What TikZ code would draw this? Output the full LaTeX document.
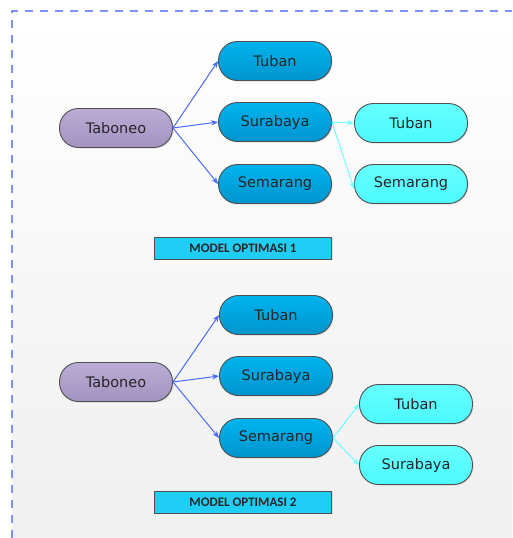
\documentclass[tikz,border=0pt]{standalone}
\usepackage{fontspec}
\setmainfont{DejaVu Sans}
\newfontfamily\labfont{Carlito}
\usetikzlibrary{shadows,arrows.meta}
\definecolor{bordc}{HTML}{7F90FF}
\definecolor{arrb}{HTML}{4A6CFF}
\definecolor{arrc}{HTML}{70FFFF}
\definecolor{purtop}{HTML}{BBADD6}
\definecolor{purbot}{HTML}{A392BF}
\definecolor{bltop}{HTML}{00B4EE}
\definecolor{blbot}{HTML}{0094CE}
\definecolor{cytop}{HTML}{66FFFF}
\definecolor{cybot}{HTML}{4CFAFF}
\definecolor{edgec}{HTML}{505050}
\definecolor{labc}{HTML}{1FCDF5}
\tikzset{
  pill/.style={rectangle, rounded corners=19pt, minimum width=113pt, minimum height=39pt,
    inner sep=0pt, draw=edgec, line width=0.9pt, font=\fontsize{14.5}{17}\selectfont, text=black!85,
    drop shadow={opacity=0.25, shadow xshift=1pt, shadow yshift=-1pt}},
  pur/.style={pill, top color=purtop, bottom color=purbot},
  blu/.style={pill, top color=bltop, bottom color=blbot},
  cya/.style={pill, top color=cytop, bottom color=cybot},
  modlab/.style={rectangle, draw=edgec, line width=0.8pt, fill=labc, minimum width=177pt, minimum height=22pt,
    inner sep=0pt, font=\labfont\bfseries\fontsize{13}{14}\selectfont, text=black!85,
    drop shadow={opacity=0.2, shadow xshift=1pt, shadow yshift=-1pt}},
  barr/.style={draw=arrb, line width=1pt, -{Stealth[length=7pt,width=5.5pt]}},
  carr/.style={draw=arrc, line width=1pt, -{Stealth[length=7pt,width=5.5pt]}},
}
\begin{document}
\begin{tikzpicture}[x=1pt,y=-1pt]
\useasboundingbox (0,0) rectangle (512,538);
\fill[white] (0,0) rectangle (512,538);
\shade[top color=white, bottom color=black!6] (12,11) rectangle (512,538);
\draw[bordc, line width=1.3pt, dash pattern=on 8pt off 7pt] (12,538) -- (12,11) -- (512,11);

% Model 1
\node[pur] (ta1) at (116,128) {Taboneo};
\node[blu] (tu1) at (275,61) {Tuban};
\node[blu] (su1) at (275,122) {Surabaya};
\node[blu] (se1) at (275,184) {Semarang};
\node[cya] (tu1b) at (411,123) {Tuban};
\node[cya] (se1b) at (411,184) {Semarang};
\node[modlab] (m1) at (243,248) {MODEL OPTIMASI 1};
\draw[barr] (ta1.east) -- (tu1.west);
\draw[barr] (ta1.east) -- (su1.west);
\draw[barr] (ta1.east) -- (se1.west);
\draw[carr] (su1.east) -- (tu1b.west);
\draw[carr] (su1.east) -- ([yshift=-5pt]se1b.west);

% Model 2
\node[pur] (ta2) at (116,382) {Taboneo};
\node[blu] (tu2) at (276,315) {Tuban};
\node[blu] (su2) at (276,376) {Surabaya};
\node[blu] (se2) at (276,438) {Semarang};
\node[cya] (tu2b) at (416,404) {Tuban};
\node[cya] (su2b) at (416,465) {Surabaya};
\node[modlab] (m2) at (243,502) {MODEL OPTIMASI 2};
\draw[barr] (ta2.east) -- (tu2.west);
\draw[barr] (ta2.east) -- (su2.west);
\draw[barr] (ta2.east) -- (se2.west);
\draw[carr] (se2.east) -- (tu2b.west);
\draw[carr] (se2.east) -- (su2b.west);
\end{tikzpicture}
\end{document}
